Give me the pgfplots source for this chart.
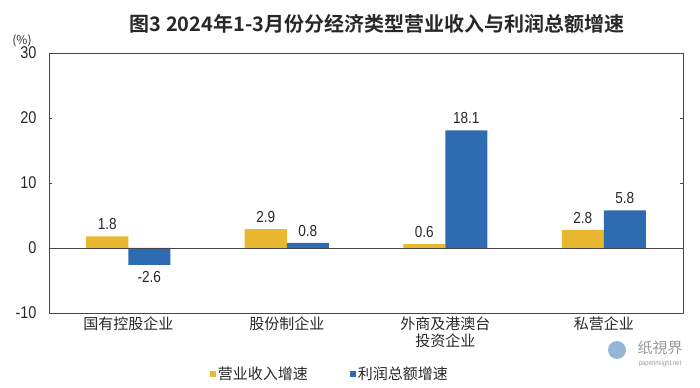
\documentclass[border=0pt]{standalone}
\usepackage{pgfplots}
\pgfplotsset{compat=1.18}
\usepackage{fontspec}
\setmainfont{Liberation Sans}[FakeStretch=0.85]
\newfontfamily\cjk{Noto Sans CJK SC}
\newfontfamily\cjkb{Noto Sans CJK SC Bold}
\definecolor{ybar}{RGB}{232,184,48}
\definecolor{bbar}{RGB}{46,108,178}
\definecolor{frame}{RGB}{70,70,70}
\definecolor{txt}{RGB}{40,40,40}
\begin{document}
\begin{tikzpicture}
\path[use as bounding box] (0,0) rectangle (700bp,388bp);
\node[font=\cjkb\fontsize{20bp}{24bp}\selectfont, text=txt] at (377bp,364bp) {图3 2024年1-3月份分经济类型营业收入与利润总额增速};
\node[font=\cjk\fontsize{12bp}{14bp}\selectfont, text=txt] at (22bp,347bp) {(\%)};
\begin{axis}[
  at={(49bp,75bp)}, anchor=south west,
  scale only axis, width=634bp, height=260bp,
  xmin=-0.5, xmax=3.5, ymin=-10, ymax=30,
  ybar=0pt, bar width=0.265,
  xtick={0,1,2,3},
  xticklabels={国有控股企业,股份制企业,{外商及港澳台\\投资企业},私营企业},
  xticklabel style={font=\cjk\fontsize{15bp}{17bp}\selectfont, align=center, text=txt},
  xtick style={draw=none},
  ytick={-10,0,10,20,30},
  yticklabel style={font=\fontsize{17bp}{19bp}\selectfont, text=txt, xshift=-9bp},
  /pgf/number format/assume math mode=true,
  tick align=inside, major tick length=3bp,
  ytick style={frame, line width=0.6pt},
  axis line style={frame, line width=0.8pt},
  nodes near coords={\pgfmathprintnumber[fixed,fixed zerofill,precision=1]{\pgfplotspointmeta}},
  nodes near coords style={font=\fontsize{16bp}{18bp}\selectfont, text=txt, inner ysep=6bp},
  legend style={at={(0.443,-0.235)}, anchor=center, draw=none, legend columns=2,
    font=\cjk\fontsize{15bp}{17bp}\selectfont, text=txt,
    /tikz/every even column/.append style={column sep=40bp}},
  legend image code/.code={\fill[#1, draw=none] (0bp,-3bp) rectangle (6bp,3bp);},
]
\addplot[fill=ybar, draw=none] coordinates {(0,1.8) (1,2.9) (2,0.6) (3,2.8)};
\addplot[fill=bbar, draw=none] coordinates {(0,-2.6) (1,0.8) (2,18.1) (3,5.8)};
\legend{营业收入增速,利润总额增速}
\draw[frame, line width=0.8pt] (axis cs:-0.5,0) -- (axis cs:3.5,0);
\end{axis}
\node[font=\cjk\fontsize{15bp}{17bp}\selectfont, text=gray!80] at (660bp,40bp) {纸視界};
\node[font=\fontsize{7bp}{8bp}\selectfont, text=gray!80] at (660bp,24bp) {paperinsight.net};
\fill[bbar!50] (617bp,38bp) circle (9bp);
\end{tikzpicture}
\end{document}
